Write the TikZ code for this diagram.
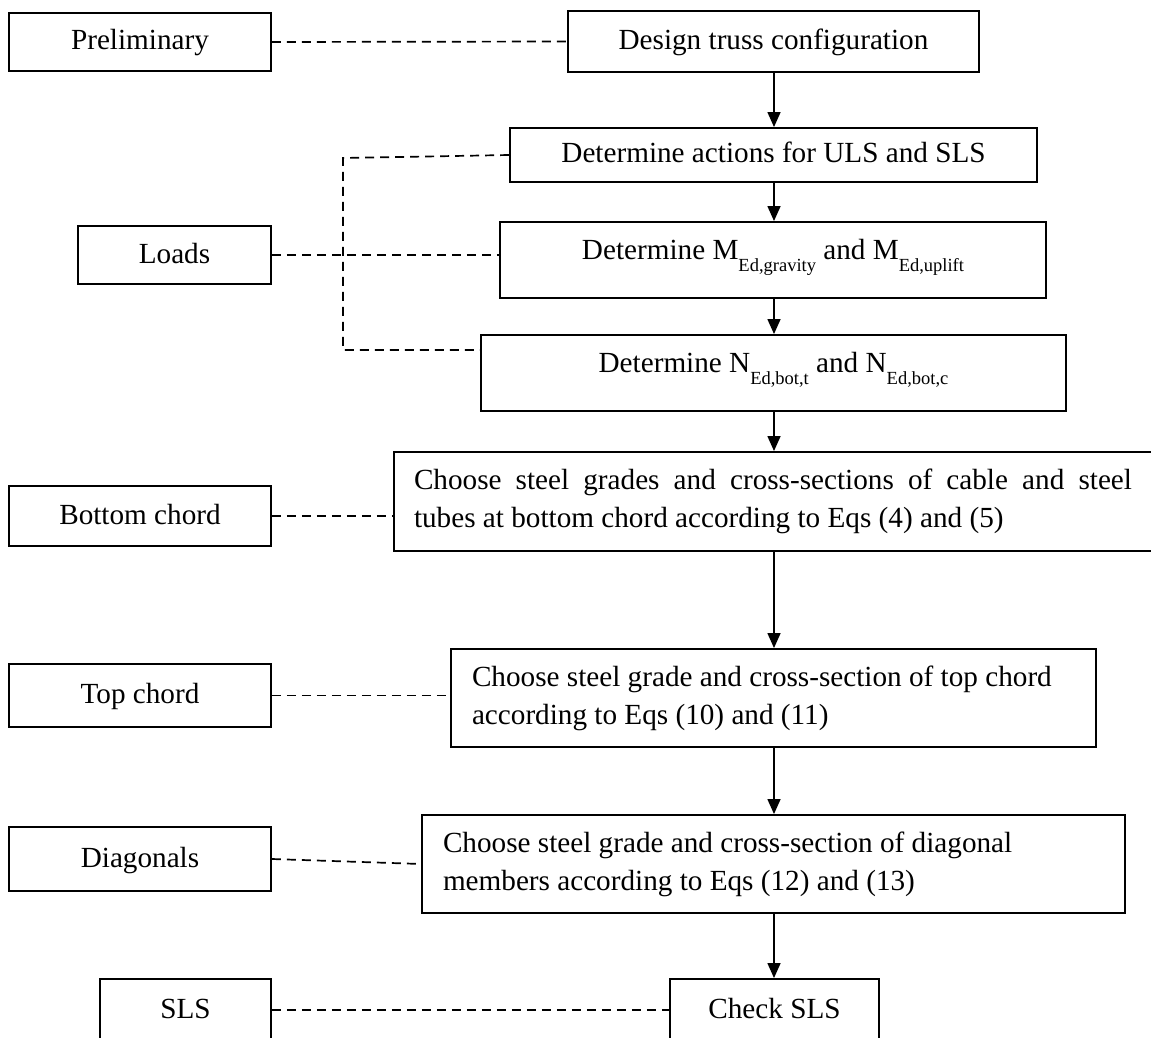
\documentclass[tikz,border=0pt]{standalone}
\usepackage{fontspec}
\setmainfont{Liberation Serif}
\usetikzlibrary{arrows.meta}
\newcommand\lowsub[1]{\raisebox{-12.5pt}{\fontsize{18.5}{20}\selectfont #1}}
\begin{document}
\begin{tikzpicture}[x=1pt,y=-1pt,
  box/.style={draw, line width=1.9pt, inner sep=0pt, font=\fontsize{29.2}{38}\selectfont, text height=20pt, text depth=4pt},
  wbox/.style={draw, line width=1.9pt, inner xsep=21pt, inner ysep=0pt, font=\fontsize{29.2}{38}\selectfont},
  link/.style={line width=1.7pt, dash pattern=on 9pt off 6pt},
  arr/.style={line width=1.5pt, -{Triangle[length=15pt,width=13pt]}}]
\useasboundingbox (0,0) rectangle (1151,1038);
\clip (0,0) rectangle (1151,1038);

% left labels
\node[box, minimum width=262pt, minimum height=58pt] (prel) at (140,42) {Preliminary};
\node[box, minimum width=193pt, minimum height=58pt] (loads) at (174.5,255) {Loads};
\node[box, minimum width=262pt, minimum height=60pt] (bcl) at (140,516) {Bottom chord};
\node[box, minimum width=262pt, minimum height=63pt] (tcl) at (140,695.5) {Top chord};
\node[box, minimum width=262pt, minimum height=64pt] (dgl) at (140,859) {Diagonals};
\node[box, minimum width=171pt, minimum height=62pt] (slsl) at (185.5,1010) {SLS};

% main column
\node[box, minimum width=411pt, minimum height=61pt] (design) at (773.5,41.5) {Design truss configuration};
\node[box, minimum width=527pt, minimum height=54pt] (act) at (773.5,155) {Determine actions for ULS and SLS};
\node[box, minimum width=546pt, minimum height=76pt, text depth=22pt] (mbox) at (773,260)
  {Determine M\lowsub{Ed,gravity} and M\lowsub{Ed,uplift}};
\node[box, minimum width=585pt, minimum height=76pt, text depth=22pt] (nbox) at (773.5,373)
  {Determine N\lowsub{Ed,bot,t} and N\lowsub{Ed,bot,c}};
\node[wbox, inner xsep=20pt, text width=718pt, minimum height=99pt, align=justify] (bcbox) at (773,501.5)
  {Choose steel grades and cross-sections of cable and steel\linebreak tubes at bottom chord according to Eqs (4) and (5)};
\node[wbox, text width=603pt, minimum height=98pt, align=flush left] (tcbox) at (773.5,698)
  {Choose steel grade and cross-section of top chord\\according to Eqs (10) and (11)};
\node[wbox, text width=661pt, minimum height=98pt, align=flush left] (dgbox) at (773.5,864)
  {Choose steel grade and cross-section of diagonal\\members according to Eqs (12) and (13)};
\node[box, minimum width=209pt, minimum height=62pt] (check) at (774.5,1010) {Check SLS};

% arrows
\coordinate (ax) at (774,0);
\draw[arr] (design.south -| ax) -- (act.north -| ax);
\draw[arr] (act.south -| ax) -- (mbox.north -| ax);
\draw[arr] (mbox.south -| ax) -- (nbox.north -| ax);
\draw[arr] (nbox.south -| ax) -- (bcbox.north -| ax);
\draw[arr] (bcbox.south -| ax) -- (tcbox.north -| ax);
\draw[arr] (tcbox.south -| ax) -- (dgbox.north -| ax);
\draw[arr] (dgbox.south -| ax) -- (check.north -| ax);

% dashed links
\coordinate (lt) at (343,158);
\coordinate (lb) at (343,350);
\draw[link] (prel.east) -- (design.west);
\draw[link] (act.west) -- (lt) -- (lb) -- (lb -| nbox.west);
\draw[link] (loads.east) -- (loads.east -| mbox.west);
\draw[link] (bcl.east) -- (bcl.east -| bcbox.west);
\draw[link] (tcl.east) -- (tcl.east -| tcbox.west);
\draw[link] (dgl.east) -- (dgbox.west);
\draw[link] (slsl.east) -- (check.west);
\end{tikzpicture}
\end{document}
